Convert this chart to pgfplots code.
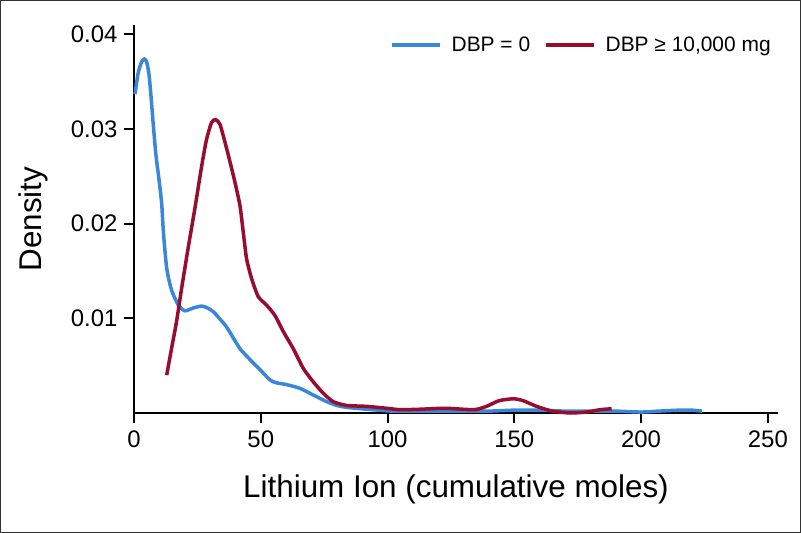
\documentclass[border=0pt]{standalone}
\usepackage{pgfplots}
\pgfplotsset{compat=1.18}
\usepackage{fontspec}
\setmainfont{Liberation Sans}
\definecolor{cblue}{RGB}{58,134,216}
\definecolor{cred}{RGB}{152,12,46}
\begin{document}
\begin{tikzpicture}
\useasboundingbox (-134bp,-120bp) rectangle (667bp,413bp);
\draw[line width=1.5bp,black!80] (-133.25bp,-119.25bp) rectangle (666.25bp,412.25bp);
\begin{axis}[
  at={(0,0)}, anchor=south west,
  scale only axis, width=644bp, height=388bp,
  xmin=0, xmax=254, ymin=0, ymax=0.041,
  axis lines=left, axis line style={-, line width=2.2bp},
  tick align=outside, major tick length=10bp,
  tick style={line width=2bp, black},
  xtick={0,50,100,150,200,250},
  ytick={0.01,0.02,0.03,0.04},
  yticklabels={0.01,0.02,0.03,0.04},
  scaled y ticks=false,
  /pgf/number format/assume math mode=true,
  ticklabel style={font=\fontsize{24}{27}\selectfont},
  xticklabel style={yshift=-4bp},
  yticklabel style={xshift=-3bp},
  xlabel={\fontsize{31.5}{36}\selectfont Lithium Ion (cumulative moles)},
  ylabel={\fontsize{31.5}{36}\selectfont Density},
  xlabel style={yshift=-20bp},
  ylabel style={yshift=16bp},
  legend style={at={(0.992,0.948)}, anchor=east, draw=none, fill=none, inner sep=0pt,
    font=\fontsize{21}{24}\selectfont, legend columns=2,
    /tikz/every odd column/.append style={column sep=8bp},
    /tikz/every even column/.append style={column sep=12bp}},
  legend image code/.code={\draw[#1, line width=3.5bp] (0bp,0bp) -- (48bp,0bp);},
  clip=false,
]
\addplot[cblue, line width=3.5bp, smooth, tension=0.4] coordinates {
(0.4,0.0337) (1.7,0.0360) (3.0,0.0371) (4.1,0.0374) (5.0,0.0371) (5.9,0.0358)
(6.7,0.0335) (7.6,0.0305) (8.6,0.0274) (9.8,0.0248) (10.9,0.0222) (11.6,0.0191)
(12.9,0.0153) (14.8,0.0130) (17.5,0.0114) (20.1,0.0108) (23.4,0.0111) (26.7,0.0113)
(29,0.0111) (31.3,0.0107) (34,0.0099) (36.5,0.0091) (39,0.0080) (41.8,0.0068)
(44.5,0.0060) (47,0.0053) (50,0.0045) (53.6,0.0035) (56,0.0032) (60.2,0.0030)
(65.5,0.0026) (70.7,0.0019) (76,0.0012) (80,0.0008) (83.8,0.0006) (91.7,0.0004)
(102,0.0002) (115,0.0002) (130,0.0002) (140,0.0002) (150,0.0003) (160,0.0003)
(170,0.0002) (180,0.0002) (190,0.0002) (200,0.0001) (207,0.0002) (215,0.0003)
(220,0.0003) (224,0.0002)
};
\addlegendentry{DBP = 0}
\addplot[cred, line width=3.5bp, smooth, tension=0.4] coordinates {
(12.9,0.0040) (14.8,0.0068) (16.8,0.0097) (18.8,0.0132) (21.4,0.0175) (24.0,0.0216)
(26.7,0.0261) (28.6,0.0289) (30.6,0.0307) (32.2,0.0310) (33.9,0.0305) (35.9,0.0286)
(37.9,0.0265) (39.8,0.0244) (41.8,0.0219) (43.1,0.0191) (44.4,0.0163) (46.4,0.0142)
(49.0,0.0123) (52.3,0.0114) (55.6,0.0103) (58.9,0.0086) (62.8,0.0068) (66.8,0.0047)
(70.7,0.0033) (74.6,0.0021) (78.6,0.0012) (83.8,0.0008) (91.8,0.0007) (99.6,0.0005)
(105,0.00035) (113,0.0004) (123,0.0005) (134,0.00035) (139,0.0007) (144,0.0013)
(149.6,0.0015) (153.5,0.0013) (158.8,0.0007) (165,0.0002) (172,0.0000) (178.5,0.0001)
(183.8,0.00035) (188.4,0.00045)
};
\addlegendentry{DBP ≥ 10,000 mg}
\end{axis}
\end{tikzpicture}
\end{document}
